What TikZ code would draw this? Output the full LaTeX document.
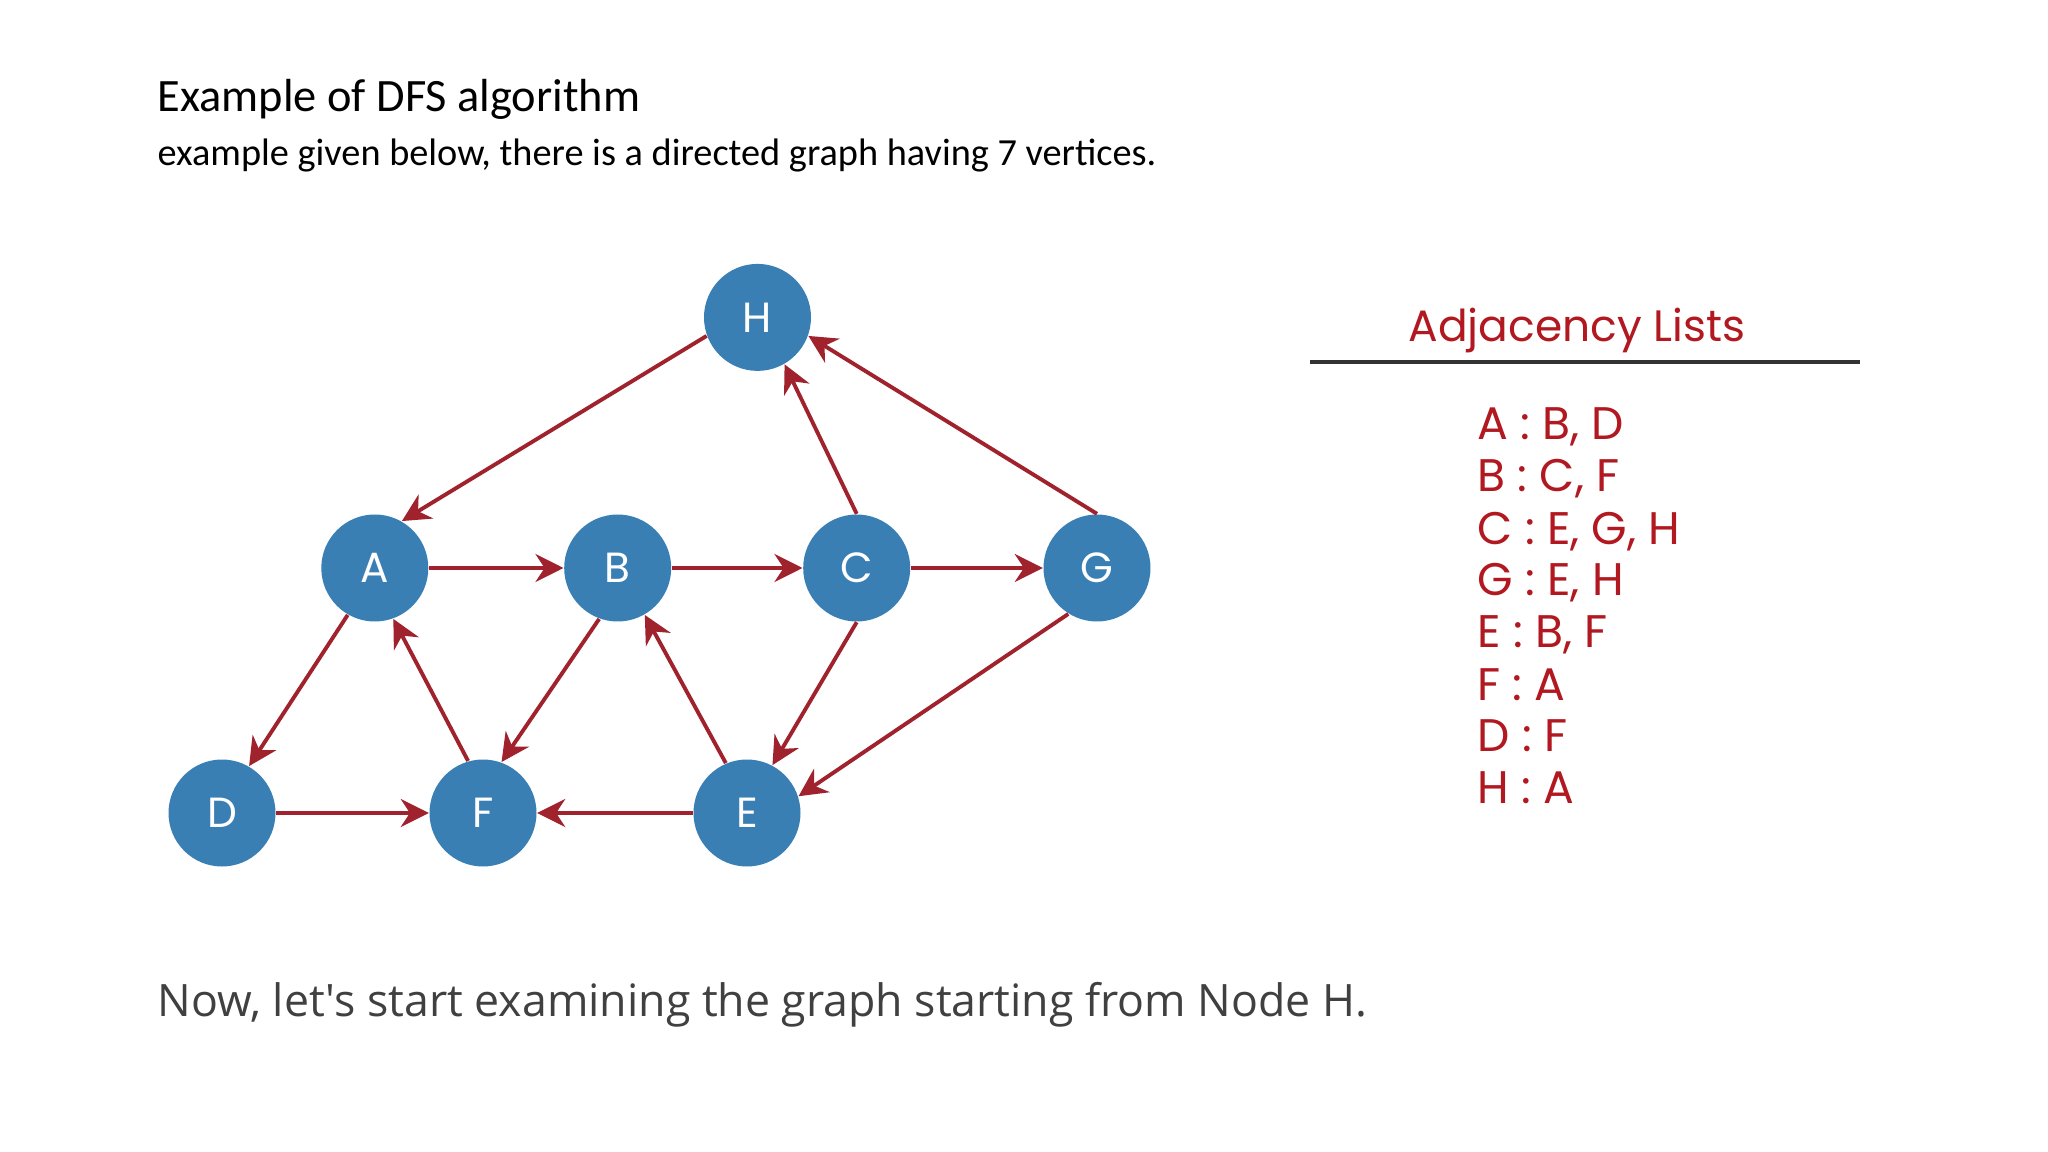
\documentclass[tikz,border=0pt]{standalone}
\usepackage{fontspec}
\setmainfont{Carlito}
\newfontfamily\geofont{Poppins}
\newfontfamily\uifont{Open Sans}
\usetikzlibrary{arrows.meta,positioning}
\definecolor{vertexblue}{RGB}{58,127,180}
\definecolor{edgered}{RGB}{160,34,44}
\definecolor{listred}{RGB}{178,24,32}
\definecolor{ruleGray}{RGB}{51,51,51}
\definecolor{noteGray}{RGB}{64,64,64}

\begin{document}
\begin{tikzpicture}[
        >={Stealth[length=2.8mm,width=2.8mm]},
        vertex/.style={circle, fill=vertexblue, draw=none, minimum size=1.07cm, inner sep=0pt, text=white, font=\geofont\fontsize{12}{14}\selectfont},
        edge/.style={->, draw=edgered, line width=1.1pt},
        heading/.style={anchor=base west, inner sep=0pt, font=\fontsize{13.2}{16}\selectfont},
        subheading/.style={anchor=base west, inner sep=0pt, font=\fontsize{10.9}{13}\selectfont},
        adjrow/.style={anchor=base west, inner sep=0pt, text=listred, font=\geofont\fontsize{13}{15}\selectfont},
        note/.style={anchor=base west, inner sep=0pt, text=noteGray, font=\uifont\fontsize{12.7}{15}\selectfont}
    ]

    \useasboundingbox[fill=white] (0,0) rectangle (20.48,-11.52);

    % --- Heading ---
    \node[heading] (title) at (1.57, -1.12) {Example of DFS algorithm};
    \node[subheading] (subtitle) at (1.57, -1.66) {example given below, there is a directed graph having 7 vertices.};

    % --- Vertices ---
    \node[vertex] (H) at (7.575, -3.174) {H};
    \node[vertex] (A) at (3.748, -5.68) {A};
    \node[vertex] (B) at (6.177, -5.68) {B};
    \node[vertex] (C) at (8.567, -5.68) {C};
    \node[vertex] (G) at (10.97, -5.68) {G};
    \node[vertex] (D) at (2.22, -8.13) {D};
    \node[vertex] (F) at (4.83, -8.13) {F};
    \node[vertex] (E) at (7.47, -8.13) {E};

    % --- Edges ---
    \draw[edge] (H.200) -- (A.60);
    \draw[edge] (A.east) -- (B.west);
    \draw[edge] (B.east) -- (C.west);
    \draw[edge] (C.east) -- (G.west);
    \draw[edge] (C.north) -- (H.-60);
    \draw[edge] (G.north) -- (H.-20);
    \draw[edge] (A.240) -- (D.60);
    \draw[edge] (F.106) -- (A.-70);
    \draw[edge] (B.250) -- (F.70);
    \draw[edge] (E.113) -- (B.-60);
    \draw[edge] (C.-90) -- (E.62);
    \draw[edge] (G.238) -- (E.18);
    \draw[edge] (D.east) -- (F.west);
    \draw[edge] (E.west) -- (F.east);

    % --- Adjacency lists ---
    \node[anchor=base, inner sep=0pt, text=listred, font=\geofont\fontsize{12.5}{15}\selectfont] (adjtitle) at (15.77, -3.42) {Adjacency Lists};
    \coordinate (ruleL) at (13.10, -3.62);
    \coordinate (ruleR) at (18.60, -3.62);
    \draw[ruleGray, line width=1.1pt] (ruleL) -- (ruleR);

    \node[adjrow] (rowA) at (14.77, -4.40) {A : B, D};
    \node[adjrow] (rowB) at (14.77, -4.92) {B : C, F};
    \node[adjrow] (rowC) at (14.77, -5.44) {C : E, G, H};
    \node[adjrow] (rowG) at (14.77, -5.96) {G : E, H};
    \node[adjrow] (rowE) at (14.77, -6.48) {E : B, F};
    \node[adjrow] (rowF) at (14.77, -7.00) {F : A};
    \node[adjrow] (rowD) at (14.77, -7.52) {D : F};
    \node[adjrow] (rowH) at (14.77, -8.04) {H : A};

    % --- Closing note ---
    \node[note] (startnote) at (1.57, -10.16) {Now, let's start examining the graph starting from Node H.};

\end{tikzpicture}
\end{document}
